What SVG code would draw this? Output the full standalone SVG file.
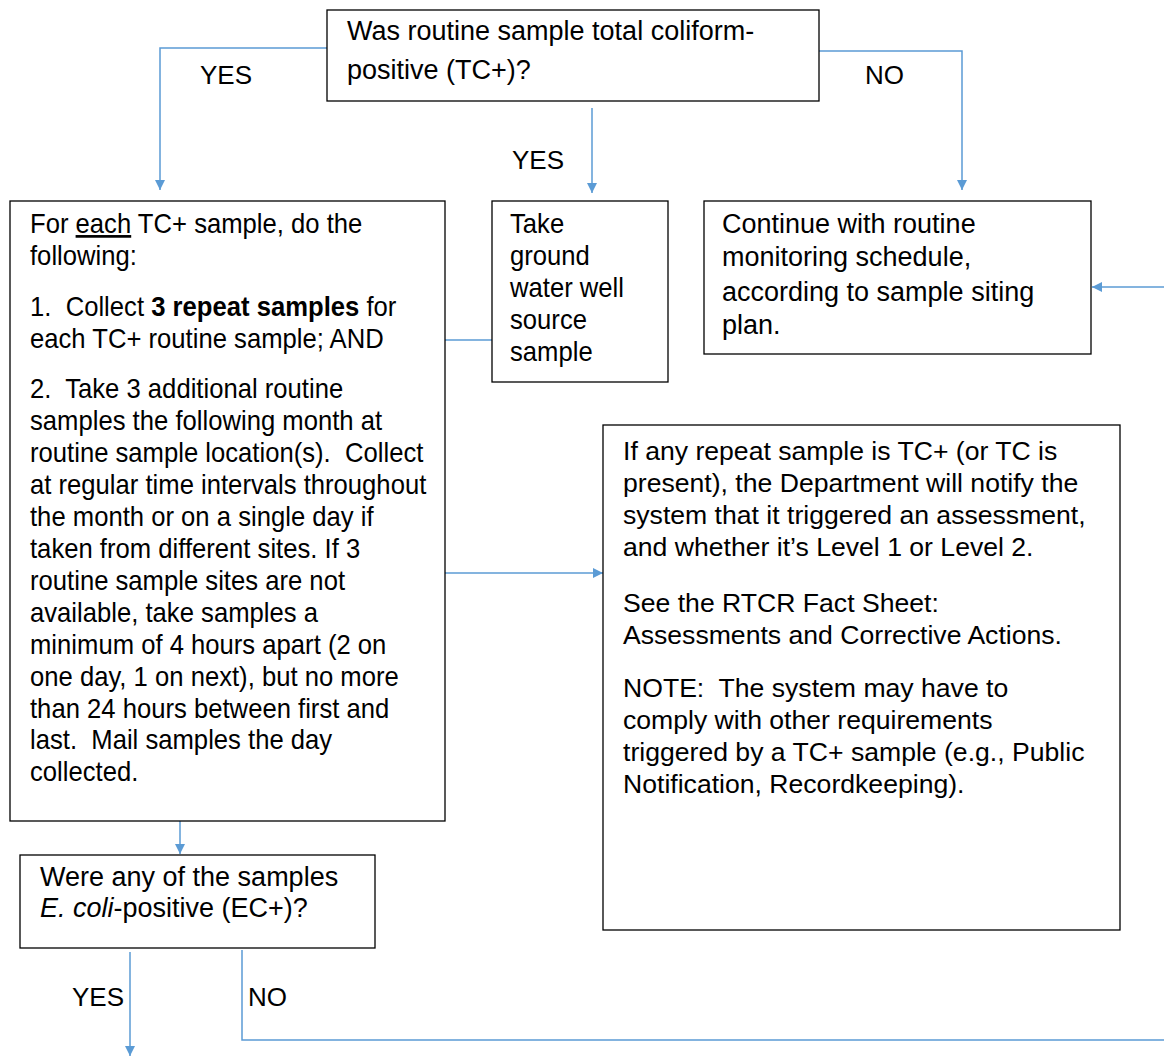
<svg xmlns="http://www.w3.org/2000/svg" width="1164" height="1057" viewBox="0 0 1164 1057">
<style>
.box{fill:#fff;stroke:#000;stroke-width:1.3}
.t{font-family:"Liberation Sans",Arial,sans-serif;font-size:27px;fill:#000;white-space:pre}
.r{font-size:26.6px}
.l{font-family:"Liberation Sans",Arial,sans-serif;font-size:26px;fill:#000}
.c{fill:none;stroke:#5B9BD5;stroke-width:1.5}
</style>
<defs>
<marker id="ah" viewBox="0 0 10 10" refX="10" refY="5" markerWidth="10" markerHeight="10" markerUnits="userSpaceOnUse" orient="auto">
<path d="M0,0 L10,5 L0,10 z" fill="#5B9BD5"/>
</marker>
</defs>
<rect width="1164" height="1057" fill="#fff"/>
<g id="connectors">
<path class="c" d="M327,48 H160 V190" marker-end="url(#ah)"/>
<path class="c" d="M592,108 V193" marker-end="url(#ah)"/>
<path class="c" d="M819,51 H962 V190" marker-end="url(#ah)"/>
<path class="c" d="M1164,287 H1092" marker-end="url(#ah)"/>
<path class="c" d="M445,340 H492"/>
<path class="c" d="M445,573 H603" marker-end="url(#ah)"/>
<path class="c" d="M180,821 V854" marker-end="url(#ah)"/>
<path class="c" d="M130,952 V1056" marker-end="url(#ah)"/>
<path class="c" d="M242,950 V1040 H1164"/>
<text class="l" x="200" y="84">YES</text>
<text class="l" x="512" y="169">YES</text>
<text class="l" x="865" y="84">NO</text>
<text class="l" x="72" y="1006">YES</text>
<text class="l" x="248" y="1006">NO</text>
</g>
<g id="q1">
<rect class="box" x="327" y="10" width="492" height="91"/>
<text class="t" x="347" y="40">Was routine sample total coliform-</text>
<text class="t" x="347" y="79">positive (TC+)?</text>
</g>
<g id="steps">
<rect class="box" x="10" y="201" width="435" height="620"/>
<g transform="translate(30 0) scale(0.95 1)">
<text class="t" x="0" y="233">For <tspan text-decoration="underline">each</tspan> TC+ sample, do the</text>
<text class="t" x="0" y="265">following:</text>
<text class="t" x="0" y="316">1.  Collect <tspan font-weight="bold">3 repeat samples</tspan> for</text>
<text class="t" x="0" y="348">each TC+ routine sample; AND</text>
<text class="t" x="0" y="398">2.  Take 3 additional routine</text>
<text class="t" x="0" y="430">samples the following month at</text>
<text class="t" x="0" y="462">routine sample location(s).  Collect</text>
<text class="t" x="0" y="494">at regular time intervals throughout</text>
<text class="t" x="0" y="526">the month or on a single day if</text>
<text class="t" x="0" y="558">taken from different sites. If 3</text>
<text class="t" x="0" y="590">routine sample sites are not</text>
<text class="t" x="0" y="622">available, take samples a</text>
<text class="t" x="0" y="654">minimum of 4 hours apart (2 on</text>
<text class="t" x="0" y="686">one day, 1 on next), but no more</text>
<text class="t" x="0" y="718">than 24 hours between first and</text>
<text class="t" x="0" y="749">last.  Mail samples the day</text>
<text class="t" x="0" y="781">collected.</text>
</g>
</g>
<g id="source">
<rect class="box" x="492" y="201" width="176" height="181"/>
<g transform="translate(510 0) scale(0.95 1)">
<text class="t" x="0" y="233">Take</text>
<text class="t" x="0" y="265">ground</text>
<text class="t" x="0" y="297">water well</text>
<text class="t" x="0" y="329">source</text>
<text class="t" x="0" y="361">sample</text>
</g>
</g>
<g id="continue">
<rect class="box" x="704" y="201" width="387" height="153"/>
<text class="t" x="722" y="233">Continue with routine</text>
<text class="t" x="722" y="266">monitoring schedule,</text>
<text class="t" x="722" y="301">according to sample siting</text>
<text class="t" x="722" y="334">plan.</text>
</g>
<g id="assess">
<rect class="box" x="603" y="425" width="517" height="505"/>
<text class="t r" x="623" y="460">If any repeat sample is TC+ (or TC is</text>
<text class="t r" x="623" y="492">present), the Department will notify the</text>
<text class="t r" x="623" y="524">system that it triggered an assessment,</text>
<text class="t r" x="623" y="556">and whether it’s Level 1 or Level 2.</text>
<text class="t r" x="623" y="612">See the RTCR Fact Sheet:</text>
<text class="t r" x="623" y="644">Assessments and Corrective Actions.</text>
<text class="t r" x="623" y="697">NOTE:  The system may have to</text>
<text class="t r" x="623" y="729">comply with other requirements</text>
<text class="t r" x="623" y="761">triggered by a TC+ sample (e.g., Public</text>
<text class="t r" x="623" y="793">Notification, Recordkeeping).</text>
</g>
<g id="q2">
<rect class="box" x="20" y="855" width="355" height="93"/>
<text class="t" x="40" y="886">Were any of the samples</text>
<text class="t" x="40" y="917"><tspan font-style="italic">E. coli</tspan>-positive (EC+)?</text>
</g>
</svg>
